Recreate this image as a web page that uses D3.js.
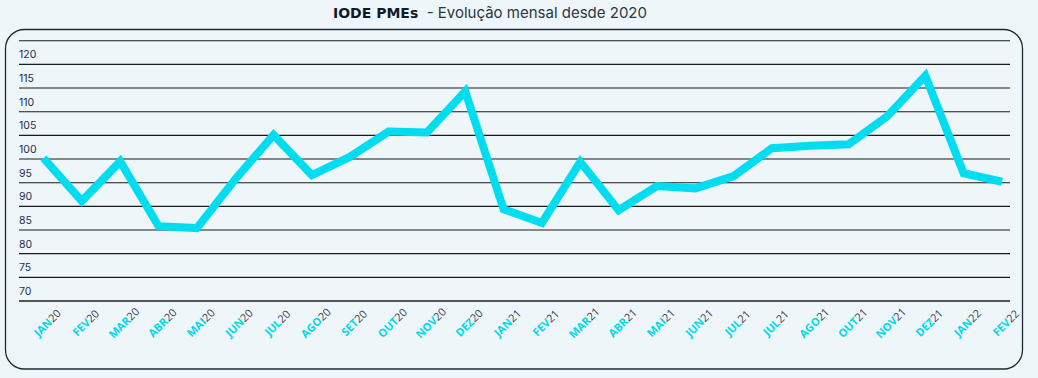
<!DOCTYPE html>
<html>
<head>
<meta charset="utf-8">
<script src="https://cdn.jsdelivr.net/npm/d3@7"></script>
<style>
  html, body { margin: 0; padding: 0; background: #EEF6F9; }
  svg { display: block; }
</style>
</head>
<body>
<div id="chart"></div>
<script>
// ---- data ----
const months = ["JAN","FEV","MAR","ABR","MAI","JUN","JUL","AGO","SET","OUT","NOV","DEZ",
                "JAN","FEV","MAR","ABR","MAI","JUN","JUL","JUL","AGO","OUT","NOV","DEZ",
                "JAN","FEV"];
const years  = ["20","20","20","20","20","20","20","20","20","20","20","20",
                "21","21","21","21","21","21","21","21","21","21","21","21",
                "22","22"];
const values = [100.2, 91.1, 99.5, 85.8, 85.4, 95.7, 105.1, 96.6, 100.5, 105.8, 105.6, 114.3,
                89.4, 86.5, 99.4, 89.2, 94.3, 93.8, 96.4, 102.3, 102.8, 103.1, 109.0, 117.6,
                97.0, 95.2];
const yTicks = [70, 75, 80, 85, 90, 95, 100, 105, 110, 115, 120, 125];
const yLabels = [70, 75, 80, 85, 90, 95, 100, 105, 110, 115, 120];

const W = 1038, H = 378;
const svg = d3.select("#chart").append("svg").attr("width", W).attr("height", H);

svg.append("rect").attr("width", W).attr("height", H).attr("fill", "#EEF6F9");

// frame
svg.append("rect")
  .attr("x", 5.5).attr("y", 29.5).attr("width", 1017).attr("height", 339.5)
  .attr("rx", 19).attr("ry", 19)
  .attr("fill", "none").attr("stroke", "#1d2b33").attr("stroke-width", 1.3);

// title
const title = svg.append("text")
  .attr("x", 490).attr("y", 18)
  .attr("text-anchor", "middle")
  .style("font-size", "14.5px");
title.append("tspan").attr("font-weight", 700).attr("fill", "#0f1a2b")
  .style("font-family", "'DejaVu Sans', sans-serif").style("font-size", "14px").text("IODE PMEs");
title.append("tspan").attr("font-weight", 400).attr("fill", "#2d3540")
  .style("font-family", "Inter, 'Open Sans', sans-serif").style("font-size", "15px")
  .text(" \u00a0- Evolução mensal desde 2020");

// scales
const idx = d3.range(values.length);
const x = d3.scalePoint().domain(idx).range([43.5, 1002]);
const y = d3.scaleLinear().domain([70, 125]).range([301, 40.7]);

// gridlines
const grid = svg.append("g");
grid.selectAll("line").data(yTicks).enter().append("line")
  .attr("x1", 19).attr("x2", 1010)
  .attr("y1", d => y(d)).attr("y2", d => y(d))
  .attr("stroke", d => d === 70 ? "#555" : "#1b1b1b")
  .attr("stroke-width", d => d === 70 ? 2 : 1.1);

// y labels
svg.append("g").selectAll("text").data(yLabels).enter().append("text")
  .attr("x", 19).attr("y", d => y(d) - 6)
  .attr("fill", "#1F2D4D")
  .style("font-family", "Inter, 'Open Sans', sans-serif")
  .style("font-size", "10.5px")
  .text(d => d);

// line
const line = d3.line().x((d, i) => x(i)).y(d => y(d));
svg.append("path").datum(values)
  .attr("d", line)
  .attr("fill", "none")
  .attr("stroke", "#00DDF0")
  .attr("stroke-width", 8)
  .attr("stroke-linejoin", "miter")
  .attr("stroke-linecap", "butt");

// x labels
const xl = svg.append("g").selectAll("text").data(idx).enter().append("text")
  .attr("transform", i => `translate(${x(i) + 4},323) rotate(-45)`)
  .attr("text-anchor", "middle")
  .attr("dy", "0.35em")
  .style("font-family", "'Open Sans', sans-serif")
  .style("font-size", "11px");
xl.append("tspan").attr("font-weight", 700).attr("fill", "#00D8EE").text(i => months[i]);
xl.append("tspan").attr("font-weight", 400).attr("fill", "#3a4150").text(i => years[i]);
</script>
</body>
</html>
